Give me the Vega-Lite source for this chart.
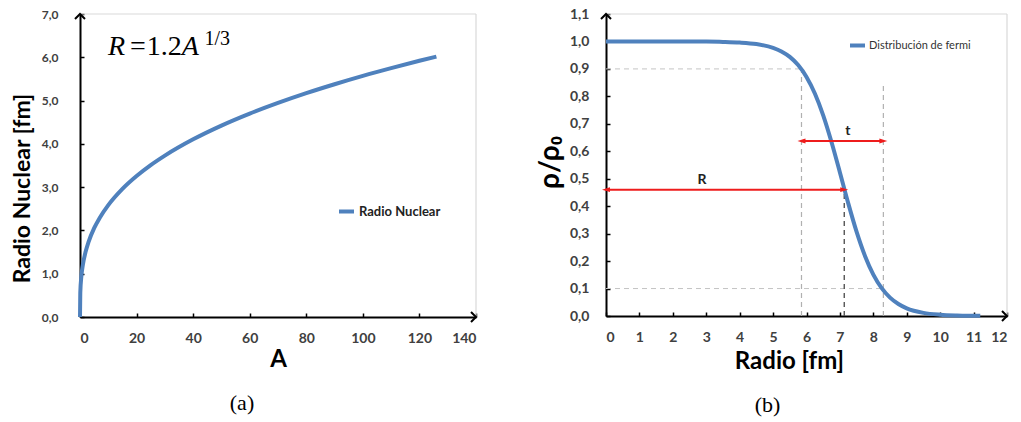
{
  "$schema": "https://vega.github.io/schema/vega-lite/v6.json",
  "background": "white",
  "autosize": {"type": "none"},
  "padding": {"left": 80, "top": 14, "right": 941, "bottom": 408},
  "bounds": "flush",
  "spacing": 130,
  "config": {
    "view": {"stroke": null},
    "axis": {
      "grid": false,
      "domain": true,
      "domainColor": "#000000",
      "domainWidth": 2,
      "domainOpacity": 1,
      "ticks": true,
      "tickColor": "#000000",
      "tickWidth": 1.5,
      "tickSize": -4,
      "zindex": 1,
      "labelFont": "Lato",
      "labelFontWeight": "bold",
      "labelFontSize": 13,
      "labelColor": "#404040",
      "titleFont": "Lato",
      "titleFontWeight": "bold",
      "titleFontSize": 23,
      "titleColor": "black"
    },
    "legend": {"padding": 0}
  },
  "resolve": {"scale": {"color": "independent"}, "legend": {"color": "independent"}},
  "datasets": {
    "radio": [
      {"A": 0, "R": 0, "serie": "Radio Nuclear"},
      {"A": 0.1, "R": 0.557, "serie": "Radio Nuclear"},
      {"A": 0.5, "R": 0.952, "serie": "Radio Nuclear"},
      {"A": 1, "R": 1.2, "serie": "Radio Nuclear"},
      {"A": 2, "R": 1.512, "serie": "Radio Nuclear"},
      {"A": 3, "R": 1.73, "serie": "Radio Nuclear"},
      {"A": 5, "R": 2.052, "serie": "Radio Nuclear"},
      {"A": 7, "R": 2.295, "serie": "Radio Nuclear"},
      {"A": 10, "R": 2.585, "serie": "Radio Nuclear"},
      {"A": 15, "R": 2.96, "serie": "Radio Nuclear"},
      {"A": 20, "R": 3.257, "serie": "Radio Nuclear"},
      {"A": 25, "R": 3.509, "serie": "Radio Nuclear"},
      {"A": 30, "R": 3.728, "serie": "Radio Nuclear"},
      {"A": 40, "R": 4.104, "serie": "Radio Nuclear"},
      {"A": 50, "R": 4.421, "serie": "Radio Nuclear"},
      {"A": 60, "R": 4.698, "serie": "Radio Nuclear"},
      {"A": 70, "R": 4.945, "serie": "Radio Nuclear"},
      {"A": 80, "R": 5.171, "serie": "Radio Nuclear"},
      {"A": 90, "R": 5.377, "serie": "Radio Nuclear"},
      {"A": 100, "R": 5.57, "serie": "Radio Nuclear"},
      {"A": 110, "R": 5.749, "serie": "Radio Nuclear"},
      {"A": 120, "R": 5.919, "serie": "Radio Nuclear"},
      {"A": 126, "R": 6.016, "serie": "Radio Nuclear"}
    ],
    "fermi": [
      {"r": 0, "rho": 1.0, "serie": "Distribución de fermi"},
      {"r": 1, "rho": 1.0, "serie": "Distribución de fermi"},
      {"r": 2, "rho": 1.0, "serie": "Distribución de fermi"},
      {"r": 3, "rho": 0.9994, "serie": "Distribución de fermi"},
      {"r": 3.5, "rho": 0.9984, "serie": "Distribución de fermi"},
      {"r": 4, "rho": 0.9961, "serie": "Distribución de fermi"},
      {"r": 4.5, "rho": 0.9904, "serie": "Distribución de fermi"},
      {"r": 5, "rho": 0.9765, "serie": "Distribución de fermi"},
      {"r": 5.25, "rho": 0.9635, "serie": "Distribución de fermi"},
      {"r": 5.5, "rho": 0.9437, "serie": "Distribución de fermi"},
      {"r": 5.75, "rho": 0.914, "serie": "Distribución de fermi"},
      {"r": 6, "rho": 0.8709, "serie": "Distribución de fermi"},
      {"r": 6.25, "rho": 0.8107, "serie": "Distribución de fermi"},
      {"r": 6.5, "rho": 0.7311, "serie": "Distribución de fermi"},
      {"r": 6.75, "rho": 0.633, "serie": "Distribución de fermi"},
      {"r": 7, "rho": 0.5227, "serie": "Distribución de fermi"},
      {"r": 7.25, "rho": 0.4101, "serie": "Distribución de fermi"},
      {"r": 7.5, "rho": 0.3062, "serie": "Distribución de fermi"},
      {"r": 7.75, "rho": 0.2188, "serie": "Distribución de fermi"},
      {"r": 8, "rho": 0.1509, "serie": "Distribución de fermi"},
      {"r": 8.25, "rho": 0.1014, "serie": "Distribución de fermi"},
      {"r": 8.5, "rho": 0.0668, "serie": "Distribución de fermi"},
      {"r": 8.75, "rho": 0.0435, "serie": "Distribución de fermi"},
      {"r": 9, "rho": 0.028, "serie": "Distribución de fermi"},
      {"r": 9.5, "rho": 0.0115, "serie": "Distribución de fermi"},
      {"r": 10, "rho": 0.0047, "serie": "Distribución de fermi"},
      {"r": 10.5, "rho": 0.0019, "serie": "Distribución de fermi"},
      {"r": 11, "rho": 0.0008, "serie": "Distribución de fermi"},
      {"r": 11.2, "rho": 0.0005, "serie": "Distribución de fermi"}
    ],
    "guiasH": [
      {"rho": 0.9, "r": 0, "r2": 5.85},
      {"rho": 0.1, "r": 0, "r2": 8.3}
    ],
    "guiasV": [
      {"r": 5.85, "rho": 0, "rho2": 0.9},
      {"r": 8.3, "rho": 0, "rho2": 0.84}
    ],
    "guiaR": [
      {"r": 7.13, "rho": 0, "rho2": 0.46}
    ],
    "flechas": [
      {"rho": 0.46, "r": 0, "r2": 7.13, "label": "R"},
      {"rho": 0.6375, "r": 5.85, "r2": 8.3, "label": "t"}
    ],
    "etiquetas": [
      {"r": 2.87, "rho": 0.497, "label": "R"},
      {"r": 7.24, "rho": 0.675, "label": "t"}
    ]
  },
  "hconcat": [
    {
      "width": 396,
      "height": 303,
      "title": {"text": "(a)", "orient": "bottom", "frame": "group", "font": "Liberation Serif", "fontSize": 22, "fontWeight": "normal", "color": "black", "offset": 22, "dx": -36},
      "encoding": {
        "x": {"field": "A", "type": "quantitative",
              "scale": {"domain": [0, 140], "nice": false, "zero": false},
              "axis": {"values": [0, 20, 40, 60, 80, 100, 120, 140], "labelPadding": 18, "labelFontSize": 14,
                       "title": "A", "titleY": 42, "titleBaseline": "middle", "titleFontSize": 24}},
        "y": {"field": "R", "type": "quantitative",
              "scale": {"domain": [0, 7], "nice": false, "zero": false},
              "axis": {"values": [0, 1, 2, 3, 4, 5, 6, 7], "labelExpr": "replace(format(datum.value, '.1f'), '.', ',')", "labelPadding": 26, "labelFontSize": 12,
                       "title": "Radio Nuclear [fm]", "titleX": -58, "titleY": 174, "titleBaseline": "middle", "titleAlign": "center"}}
      },
      "layer": [
        {
          "data": {"values": [{"A": 0, "R": 7, "A2": 140}]},
          "mark": {"type": "rule", "color": "#d9d9d9", "strokeWidth": 1.2},
          "encoding": {"x2": {"field": "A2"}}
        },
        {
          "data": {"values": [{"A": 140, "R": 0, "R2": 7}]},
          "mark": {"type": "rule", "color": "#d9d9d9", "strokeWidth": 1.2},
          "encoding": {"y2": {"field": "R2"}}
        },
        {
          "data": {"name": "radio"},
          "mark": {"type": "line", "strokeWidth": 4, "interpolate": "monotone"},
          "encoding": {
            "color": {"field": "serie", "type": "nominal",
                      "scale": {"domain": ["Radio Nuclear"], "range": ["#4f81bd"]},
                      "legend": {"orient": "none", "legendX": 257, "legendY": 188, "title": null,
                                 "symbolType": "stroke", "symbolStrokeWidth": 4, "symbolSize": 225,
                                 "labelFont": "Lato", "labelFontWeight": "bold", "labelFontSize": 13, "labelColor": "#222222", "labelOffset": 3}}
          }
        },
        {
          "data": {"values": [{"A": 9.9, "R": 6.05, "t": "R"}, {"A": 36.0, "R": 6.05, "t": "A"}]},
          "mark": {"type": "text", "font": "Liberation Serif", "fontStyle": "italic", "fontSize": 28, "align": "left", "baseline": "alphabetic", "color": "black"},
          "encoding": {"text": {"field": "t"}}
        },
        {
          "data": {"values": [{"A": 17.7, "R": 6.05, "t": "="}, {"A": 23.6, "R": 6.05, "t": "1.2"}]},
          "mark": {"type": "text", "font": "Liberation Serif", "fontSize": 28, "align": "left", "baseline": "alphabetic", "color": "black"},
          "encoding": {"text": {"field": "t"}}
        },
        {
          "data": {"values": [{"A": 44.0, "R": 6.28, "t": "1/3"}]},
          "mark": {"type": "text", "font": "Liberation Serif", "fontSize": 20, "align": "left", "baseline": "alphabetic", "color": "black"},
          "encoding": {"text": {"field": "t"}}
        },
        {
          "data": {"values": [{"A": 140, "R": 0}]},
          "mark": {"type": "point", "shape": "M-1,-1L0,0L-1,1", "size": 100, "filled": false, "stroke": "#000000", "strokeWidth": 2, "opacity": 1}
        },
        {
          "data": {"values": [{"A": 0, "R": 7}]},
          "mark": {"type": "point", "shape": "M-1,1L0,0L1,1", "size": 100, "filled": false, "stroke": "#000000", "strokeWidth": 2, "opacity": 1}
        }
      ]
    },
    {
      "width": 401,
      "height": 302,
      "title": {"text": "(b)", "orient": "bottom", "frame": "group", "font": "Liberation Serif", "fontSize": 22, "fontWeight": "normal", "color": "black", "offset": 22, "dx": -39},
      "encoding": {
        "x": {"field": "r", "type": "quantitative",
              "scale": {"domain": [0, 12], "nice": false, "zero": false},
              "axis": {"values": [0, 1, 2, 3, 4, 5, 6, 7, 8, 9, 10, 11, 12], "labelPadding": 18, "labelFontSize": 14,
                       "title": "Radio [fm]", "titleX": 183, "titleY": 45, "titleBaseline": "middle", "titleAlign": "center", "titleFontSize": 24}},
        "y": {"field": "rho", "type": "quantitative",
              "scale": {"domain": [0, 1.1], "nice": false, "zero": false},
              "axis": {"values": [0, 0.1, 0.2, 0.3, 0.4, 0.5, 0.6, 0.7, 0.8, 0.9, 1.0, 1.1], "labelExpr": "replace(format(datum.value, '.1f'), '.', ',')", "labelPadding": 21, "labelFontSize": 14,
                       "title": "ρ/ρ₀", "titleX": -56, "titleY": 148, "titleBaseline": "middle", "titleAlign": "center", "titleFontSize": 28}}
      },
      "layer": [
        {
          "data": {"values": [{"r": 0, "rho": 1.1, "r2": 12}]},
          "mark": {"type": "rule", "color": "#d9d9d9", "strokeWidth": 1.2},
          "encoding": {"x2": {"field": "r2"}}
        },
        {
          "data": {"values": [{"r": 12, "rho": 0, "rho2": 1.1}]},
          "mark": {"type": "rule", "color": "#d9d9d9", "strokeWidth": 1.2},
          "encoding": {"y2": {"field": "rho2"}}
        },
        {
          "data": {"name": "guiasH"},
          "mark": {"type": "rule", "color": "#c4c4c4", "strokeWidth": 1, "strokeDash": [5, 4]},
          "encoding": {"x2": {"field": "r2"}}
        },
        {
          "data": {"name": "guiasV"},
          "mark": {"type": "rule", "color": "#b0b0b0", "strokeWidth": 1.2, "strokeDash": [5, 4]},
          "encoding": {"y2": {"field": "rho2"}}
        },
        {
          "data": {"name": "guiaR"},
          "mark": {"type": "rule", "color": "#555555", "strokeWidth": 1.4, "strokeDash": [5, 4]},
          "encoding": {"y2": {"field": "rho2"}}
        },
        {
          "data": {"name": "fermi"},
          "mark": {"type": "line", "strokeWidth": 4, "interpolate": "monotone"},
          "encoding": {
            "color": {"field": "serie", "type": "nominal",
                      "scale": {"domain": ["Distribución de fermi"], "range": ["#4f81bd"]},
                      "legend": {"orient": "none", "legendX": 242, "legendY": 22, "title": null,
                                 "symbolType": "stroke", "symbolStrokeWidth": 4, "symbolSize": 225,
                                 "labelFont": "Lato", "labelFontSize": 11, "labelColor": "#333333", "labelOffset": 2}}
          }
        },
        {
          "data": {"name": "flechas"},
          "mark": {"type": "rule", "color": "#ee1c1c", "strokeWidth": 2},
          "encoding": {"x2": {"field": "r2"}}
        },
        {
          "data": {"name": "flechas"},
          "mark": {"type": "point", "shape": "M1,-0.6L-1,0L1,0.6Z", "size": 64, "filled": true, "color": "#ee1c1c", "opacity": 1}
        },
        {
          "data": {"name": "flechas"},
          "mark": {"type": "point", "shape": "M-1,-0.6L1,0L-1,0.6Z", "size": 64, "filled": true, "color": "#ee1c1c", "opacity": 1},
          "encoding": {"x": {"field": "r2", "type": "quantitative"}}
        },
        {
          "data": {"name": "etiquetas"},
          "mark": {"type": "text", "font": "Lato", "fontWeight": "bold", "fontSize": 14, "color": "#222222", "baseline": "middle", "align": "center"},
          "encoding": {"text": {"field": "label"}}
        },
        {
          "data": {"values": [{"r": 12, "rho": 0}]},
          "mark": {"type": "point", "shape": "M-1,-1L0,0L-1,1", "size": 100, "filled": false, "stroke": "#000000", "strokeWidth": 2, "opacity": 1}
        },
        {
          "data": {"values": [{"r": 0, "rho": 1.1}]},
          "mark": {"type": "point", "shape": "M-1,1L0,0L1,1", "size": 100, "filled": false, "stroke": "#000000", "strokeWidth": 2, "opacity": 1}
        }
      ]
    }
  ]
}
